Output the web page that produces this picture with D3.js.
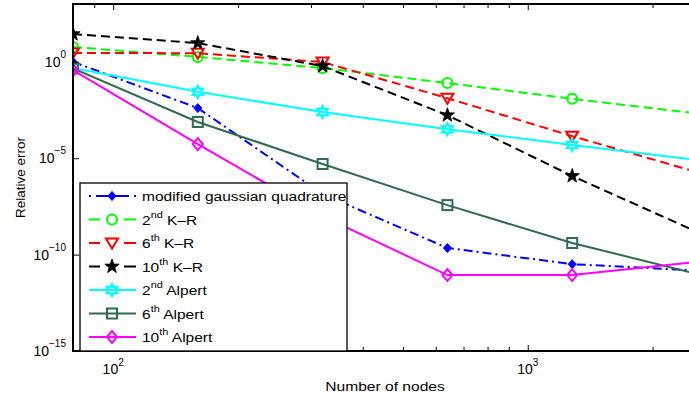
<!DOCTYPE html>
<html>
<head>
<meta charset="utf-8">
<script src="https://cdn.jsdelivr.net/npm/d3@7/dist/d3.min.js"></script>
<style>
  body { margin: 0; background: #fff; }
  text { font-family: "Liberation Sans", Arial, Helvetica, sans-serif; fill: #000; }
</style>
</head>
<body>
<svg id="chart" width="689" height="400"></svg>
<script>
// number of nodes (x) and relative error per method (y)
const nodes = [80, 160, 320, 640, 1280, 2560];
const gaussQuad = [1.0, 4.0e-3, 1.4e-7, 2.2e-10, 3.2e-11, 1.5e-11];
const kr2 = [5.9, 1.8, 0.48, 7.9e-2, 1.2e-2, 2.1e-3];
const kr6 = [2.9, 2.8, 0.98, 1.3e-2, 1.4e-4, 1.9e-6];
const kr10 = [27.5, 9.4, 0.6, 1.7e-3, 1.2e-6, 1.5e-9];
const alpert2 = [0.48, 2.8e-2, 2.5e-3, 3.2e-4, 4.9e-5, 8.1e-6];
const alpert6 = [0.45, 7.6e-4, 5.0e-6, 3.7e-8, 4.0e-10, 1.0e-11];
const alpert10 = [0.37, 5.4e-5, 1.0e-8, 8.7e-12, 8.7e-12, 4.2e-11];

// legend labels: [main, superscript, rest]
const labels = [
  ["modified gaussian quadrature", "", ""],
  ["2", "nd", " K\u2013R"],
  ["6", "th", " K\u2013R"],
  ["10", "th", " K\u2013R"],
  ["2", "nd", " Alpert"],
  ["6", "th", " Alpert"],
  ["10", "th", " Alpert"]
];

const xMajor = [100, 1000];
const xMinor = [90, 200, 300, 400, 500, 600, 700, 800, 900, 2000];
const yExp = [0, -5, -10, -15];

const series = [
  { vals: gaussQuad, color: "#0000ff", dash: "9,4,2,4", legDash: "2,5,33,5,2", marker: "dot" },
  { vals: kr2, color: "#00ff00", dash: "9,5", legDash: "11,24,12", marker: "circle" },
  { vals: kr6, color: "#ff0000", dash: "9,5", legDash: "11,24,12", marker: "tri" },
  { vals: kr10, color: "#000000", dash: "9,5", legDash: "11,24,12", marker: "star" },
  { vals: alpert2, color: "#00ffff", dash: null, legDash: null, marker: "hex" },
  { vals: alpert6, color: "#2f6b4c", dash: null, legDash: null, marker: "square" },
  { vals: alpert10, color: "#ff00ff", dash: null, legDash: null, marker: "diamond" }
];

const svg = d3.select("#chart");
const pLeft = 73, pRight = 697, pTop = 4, pBottom = 351;

const x = d3.scaleLog().domain([80, 2560]).range([pLeft, pRight]);
const y = d3.scaleLog().domain([1e-15, 1e3]).range([pBottom, pTop]);

svg.append("defs").append("clipPath").attr("id", "plotClip")
  .append("rect").attr("x", pLeft).attr("y", pTop)
  .attr("width", pRight - pLeft).attr("height", pBottom - pTop);

function starPath(n, R, r) {
  const pts = [];
  for (let i = 0; i < 2 * n; i++) {
    const a = -Math.PI / 2 + i * Math.PI / n;
    const rad = i % 2 === 0 ? R : r;
    pts.push([rad * Math.cos(a), rad * Math.sin(a)]);
  }
  return "M" + pts.map(p => p.join(",")).join("L") + "Z";
}

function drawMarker(g, type, color) {
  if (type === "circle") {
    g.append("circle").attr("r", 5).attr("fill", "none").attr("stroke", color).attr("stroke-width", 2);
  } else if (type === "tri") {
    g.append("path").attr("d", "M-6,-4.5L6,-4.5L0,5.5Z").attr("fill", "none").attr("stroke", color).attr("stroke-width", 2);
  } else if (type === "star") {
    g.append("path").attr("d", starPath(5, 7.5, 3)).attr("fill", color).attr("stroke", color).attr("stroke-width", 0.8);
  } else if (type === "hex") {
    g.append("path").attr("d", starPath(6, 6, 3.3)).attr("fill", "none").attr("stroke", color).attr("stroke-width", 2.2);
  } else if (type === "square") {
    g.append("rect").attr("x", -5).attr("y", -5).attr("width", 10).attr("height", 10)
      .attr("fill", "none").attr("stroke", color).attr("stroke-width", 2);
  } else if (type === "diamond") {
    g.append("path").attr("d", "M0,-6L5,0L0,6L-5,0Z").attr("fill", "none").attr("stroke", color).attr("stroke-width", 2);
  } else if (type === "dot") {
    g.append("path").attr("d", "M0,-4.5L4,0L0,4.5L-4,0Z").attr("fill", color).attr("stroke", color).attr("stroke-width", 1);
  }
}

// curves
const plot = svg.append("g").attr("clip-path", "url(#plotClip)");
const line = d3.line().x((d, i) => x(nodes[i])).y(d => y(d));

series.forEach(s => {
  plot.append("path")
    .datum(s.vals)
    .attr("d", line)
    .attr("fill", "none")
    .attr("stroke", s.color)
    .attr("stroke-width", 2)
    .attr("stroke-dasharray", s.dash);
  s.vals.forEach((v, i) => {
    drawMarker(plot.append("g").attr("transform", `translate(${x(nodes[i])},${y(v)})`), s.marker, s.color);
  });
});

// ticks, pointing inwards
function ticks(axis, pos, values, size) {
  const g = svg.append("g").attr("transform", pos)
    .call(axis.tickValues(values).tickSize(size).tickSizeOuter(0).tickFormat(""));
  g.select(".domain").remove();
  g.selectAll("line").attr("stroke", "#000").attr("stroke-width", 1);
}
ticks(d3.axisBottom(x), `translate(0,${pBottom})`, xMajor, -6);
ticks(d3.axisBottom(x), `translate(0,${pBottom})`, xMinor, -4);
ticks(d3.axisTop(x), `translate(0,${pTop})`, xMajor, -6);
ticks(d3.axisTop(x), `translate(0,${pTop})`, xMinor, -4);
ticks(d3.axisLeft(y), `translate(${pLeft},0)`, yExp.map(e => Math.pow(10, e)), -6);

// frame
svg.append("rect")
  .attr("x", pLeft).attr("y", pTop)
  .attr("width", pRight - pLeft).attr("height", pBottom - pTop)
  .attr("fill", "none").attr("stroke", "#000").attr("stroke-width", 2);

// tick labels
xMajor.forEach(v => {
  const t = svg.append("text").attr("x", x(v)).attr("y", 374)
    .attr("text-anchor", "middle").style("font-size", "14px");
  t.append("tspan").text("10");
  t.append("tspan").attr("dy", -8).style("font-size", "10px").text(Math.log10(v));
});
yExp.forEach(e => {
  const t = svg.append("text").attr("x", 66).attr("y", y(Math.pow(10, e)) + 5)
    .attr("text-anchor", "end").style("font-size", "14px");
  t.append("tspan").text("10");
  t.append("tspan").attr("dy", -9).style("font-size", "10px").text(e === 0 ? "0" : "\u2212" + (-e));
});

// axis titles
svg.append("g").attr("transform", `translate(${(pLeft + pRight) / 2},391) scale(1.2,1)`)
  .append("text").attr("text-anchor", "middle").style("font-size", "13px")
  .text("Number of nodes");
svg.append("text")
  .attr("transform", `translate(25,${(pTop + pBottom) / 2}) rotate(-90)`)
  .attr("text-anchor", "middle").style("font-size", "13.5px")
  .text("Relative error");

// legend
const leg = svg.append("g");
leg.append("rect").attr("x", 80).attr("y", 183).attr("width", 267).attr("height", pBottom - 183)
  .attr("fill", "#fff").attr("stroke", "#000").attr("stroke-width", 1.3);

series.forEach((s, i) => {
  const cy = 196 + i * 23.5;
  leg.append("line").attr("x1", 89).attr("x2", 136).attr("y1", cy).attr("y2", cy)
    .attr("stroke", s.color).attr("stroke-width", 2)
    .attr("stroke-dasharray", s.legDash);
  drawMarker(leg.append("g").attr("transform", `translate(112,${cy})`), s.marker, s.color);
  const t = leg.append("g").attr("transform", `translate(142,${cy + 5}) scale(1.15,1)`)
    .append("text").style("font-size", "13.5px");
  t.append("tspan").text(labels[i][0]);
  if (labels[i][1]) {
    t.append("tspan").attr("dy", -7).style("font-size", "9.5px").text(labels[i][1]);
    t.append("tspan").attr("dy", 7).text(labels[i][2]);
  }
});
</script>
</body>
</html>
